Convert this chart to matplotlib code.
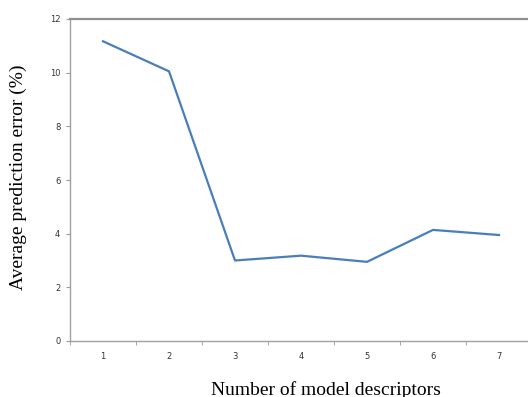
import matplotlib.pyplot as plt
import numpy as np

descriptors = [1, 2, 3, 4, 5, 6, 7]
avg_error = [11.17, 10.05, 3.0, 3.18, 2.95, 4.14, 3.95]
y_ticks = [0, 2, 4, 6, 8, 10, 12]

fig = plt.figure(figsize=(5.28, 3.97), dpi=100)
ax = fig.add_axes([70 / 528, 1 - 341 / 397, 462 / 528, 322 / 397])

ax.plot(descriptors, avg_error, color="#4a7ebb", linewidth=1.6)

ax.set_xlim(0.5, 7.5)
ax.set_ylim(0, 12)
ax.set_yticks(y_ticks)
ax.set_xticks(descriptors)
ax.set_xticks(np.arange(0.5, 8, 1), minor=True)
ax.tick_params(axis="x", which="major", length=0, labelsize=6, colors="#333333", pad=8)
ax.tick_params(axis="x", which="minor", length=3, color="#999999", direction="out")
ax.tick_params(axis="y", length=3, color="#999999", labelsize=6, labelcolor="#333333", pad=4)

for side in ["left", "bottom"]:
    ax.spines[side].set_color("#a0a0a0")
    ax.spines[side].set_linewidth(1.0)
ax.spines["top"].set_color("#909090")
ax.spines["top"].set_linewidth(1.6)
ax.spines["right"].set_visible(False)

ax.set_xlabel("Number of model descriptors", family="Liberation Serif", fontsize=14)
ax.set_ylabel("Average prediction error (%)", family="Liberation Serif", fontsize=14)
# label positions are a bit off-centre in the original
ax.xaxis.set_label_coords(0.554, -0.124)
ax.yaxis.set_label_coords(-0.093, 0.51)

fig.savefig("out.png", dpi=100)
